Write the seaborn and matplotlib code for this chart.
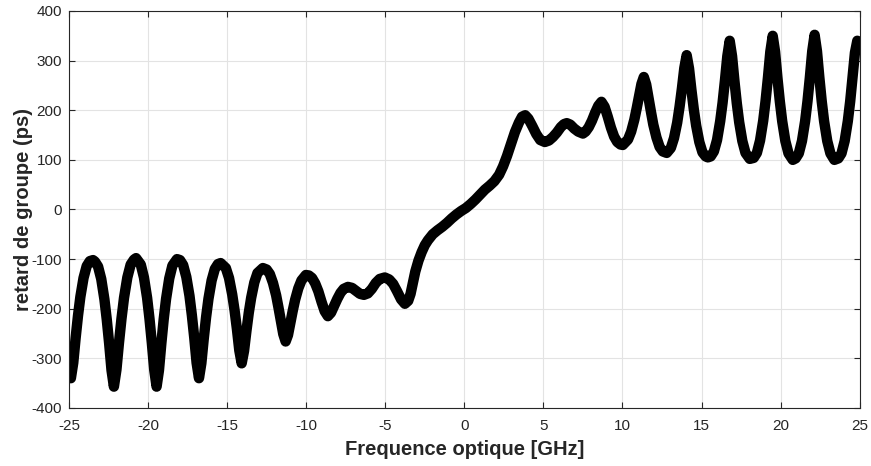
import matplotlib
matplotlib.use("Agg")
import matplotlib.pyplot as plt
import seaborn as sns
import pandas as pd

# Frequence optique (GHz) et retard de groupe (ps)
freq = [
    -25.0, -24.88, -24.73, -24.58, -24.43, -24.28, -24.08, -23.88, -23.68, -23.48,
    -23.36, -23.16, -22.96, -22.76, -22.61, -22.46, -22.31, -22.16,
    -22.0, -21.84, -21.68, -21.52, -21.31, -21.1, -20.89, -20.76,
    -20.46, -20.26, -20.06, -19.91, -19.76, -19.61, -19.46,
    -19.31, -19.16, -19.01, -18.86, -18.66, -18.46, -18.17,
    -17.98, -17.78, -17.58, -17.38, -17.23, -17.08, -16.93, -16.78,
    -16.63, -16.48, -16.33, -16.18, -15.98, -15.78, -15.58, -15.41,
    -15.08, -14.88, -14.68, -14.53, -14.38, -14.23, -14.08,
    -13.93, -13.78, -13.63, -13.48, -13.28, -13.08, -12.74,
    -12.5, -12.3, -12.1, -11.9, -11.75, -11.6, -11.45, -11.3,
    -11.15, -11.0, -10.85, -10.7, -10.5, -10.3, -10.02,
    -9.83, -9.63, -9.43, -9.23, -9.03, -8.83, -8.63,
    -8.43, -8.23, -8.03, -7.83, -7.63, -7.36,
    -7.1, -6.85, -6.6, -6.35, -6.1, -5.85, -5.6, -5.35, -5.03,
    -4.75, -4.5, -4.25, -4.0, -3.76, -3.55, -3.4, -3.25, -3.1, -2.9,
    -2.7, -2.5, -2.3, -2.0, -1.7, -1.4, -1.1, -0.8, -0.5, -0.2,
    0.1, 0.4, 0.7, 1.0, 1.3, 1.6, 1.9, 2.2, 2.45, 2.7, 2.95,
    3.2, 3.45, 3.65, 3.85, 4.05, 4.3, 4.55, 4.8, 5.09,
    5.35, 5.6, 5.85, 6.1, 6.3, 6.48, 6.7, 6.95, 7.2, 7.5,
    7.67, 7.87, 8.07, 8.27, 8.47, 8.67,
    8.87, 9.07, 9.27, 9.47, 9.67, 9.87, 10.02,
    10.35, 10.55, 10.75, 10.9, 11.05, 11.2, 11.35,
    11.5, 11.65, 11.8, 11.95, 12.15, 12.35, 12.55, 12.8,
    13.06, 13.26, 13.46, 13.61, 13.76, 13.91, 14.06,
    14.21, 14.36, 14.51, 14.66, 14.86, 15.06, 15.26, 15.4,
    15.58, 15.78, 15.98, 16.18, 16.33, 16.48, 16.63, 16.78,
    16.93, 17.08, 17.23, 17.38, 17.58, 17.78, 18.05,
    18.3, 18.5, 18.7, 18.9, 19.05, 19.2, 19.35, 19.5,
    19.65, 19.8, 19.95, 20.1, 20.3, 20.5, 20.77,
    20.95, 21.15, 21.35, 21.55, 21.7, 21.85, 22.0, 22.15,
    22.3, 22.45, 22.6, 22.75, 22.95, 23.15, 23.4,
    23.65, 23.85, 24.05, 24.25, 24.4, 24.55, 24.7, 24.85, 25.0,
]
retard = [
    -325, -340, -309, -259, -214, -176, -138, -114, -104, -102,
    -105, -115, -140, -181, -222, -270, -324, -357,
    -323, -269, -220, -178, -137, -111, -101, -98,
    -111, -137, -178, -220, -269, -323, -357,
    -324, -270, -221, -180, -139, -113, -100,
    -102, -112, -136, -174, -213, -258, -309, -340,
    -310, -261, -217, -180, -143, -120, -110, -108,
    -118, -138, -171, -203, -241, -284, -310,
    -285, -245, -208, -178, -147, -128, -118,
    -121, -130, -148, -173, -198, -225, -251, -266,
    -253, -228, -204, -182, -159, -143, -132,
    -133, -138, -149, -165, -186, -205, -215,
    -208, -194, -180, -168, -160, -156,
    -158, -164, -170, -172, -169, -160, -148, -140, -137,
    -141, -150, -165, -181, -190, -184, -170, -148, -125, -103,
    -86, -72, -62, -50, -42, -35, -27, -18, -10, -3,
    3, 11, 20, 30, 40, 48, 57, 70, 87, 108, 132,
    156, 175, 187, 190, 183, 168, 152, 140, 136,
    139, 146, 155, 166, 172, 174, 171, 163, 157, 153,
    157, 166, 179, 195, 209, 217,
    207, 187, 165, 147, 136, 131, 130,
    141, 157, 181, 204, 229, 253, 267,
    252, 224, 197, 171, 145, 126, 117, 114,
    124, 144, 175, 207, 244, 285, 311,
    284, 241, 202, 169, 136, 115, 107, 105,
    107, 117, 140, 178, 215, 260, 309, 340,
    309, 259, 214, 176, 138, 114, 102,
    104, 114, 139, 179, 219, 266, 318, 350,
    318, 265, 218, 178, 138, 113, 100,
    103, 113, 138, 178, 218, 266, 319, 352,
    319, 266, 218, 178, 138, 113, 100,
    103, 113, 138, 178, 218, 266, 316, 340, 325,
]

df = pd.DataFrame({"freq": freq, "retard": retard})

sns.set_theme(style="whitegrid")
plt.rcParams["font.family"] = ["Liberation Sans", "DejaVu Sans"]
plt.rcParams["axes.unicode_minus"] = False

fig = plt.figure(figsize=(8.71, 4.66), dpi=100)
ax = fig.add_axes([0.0792, 0.1245, 0.9078, 0.8519])

sns.lineplot(data=df, x="freq", y="retard", ax=ax, color="black",
             linewidth=7.5, estimator=None, sort=False)
for l in ax.get_lines():
    l.set_solid_capstyle("round")
    l.set_solid_joinstyle("round")

ax.set_xlim(-25, 25)
ax.set_ylim(-400, 400)
ax.set_xticks(range(-25, 26, 5))
ax.set_yticks(range(-400, 401, 100))
ax.grid(True, color="#e3e3e3", linewidth=0.8)
ax.set_facecolor("white")
for s in ax.spines.values():
    s.set_visible(True)
    s.set_color("#262626")
    s.set_linewidth(0.8)
ax.tick_params(direction="in", length=4, width=0.8, color="#262626",
               labelsize=11, labelcolor="#262626", pad=5,
               top=True, right=True, bottom=True, left=True)
ax.tick_params(axis="x", pad=8)
ax.set_xlabel("Frequence optique [GHz]", fontsize=14.5, fontweight="bold",
              color="#262626", labelpad=5)
ax.set_ylabel("retard de groupe (ps)", fontsize=14.5, fontweight="bold",
              color="#262626", labelpad=-1)

fig.savefig("out.png", dpi=100)
